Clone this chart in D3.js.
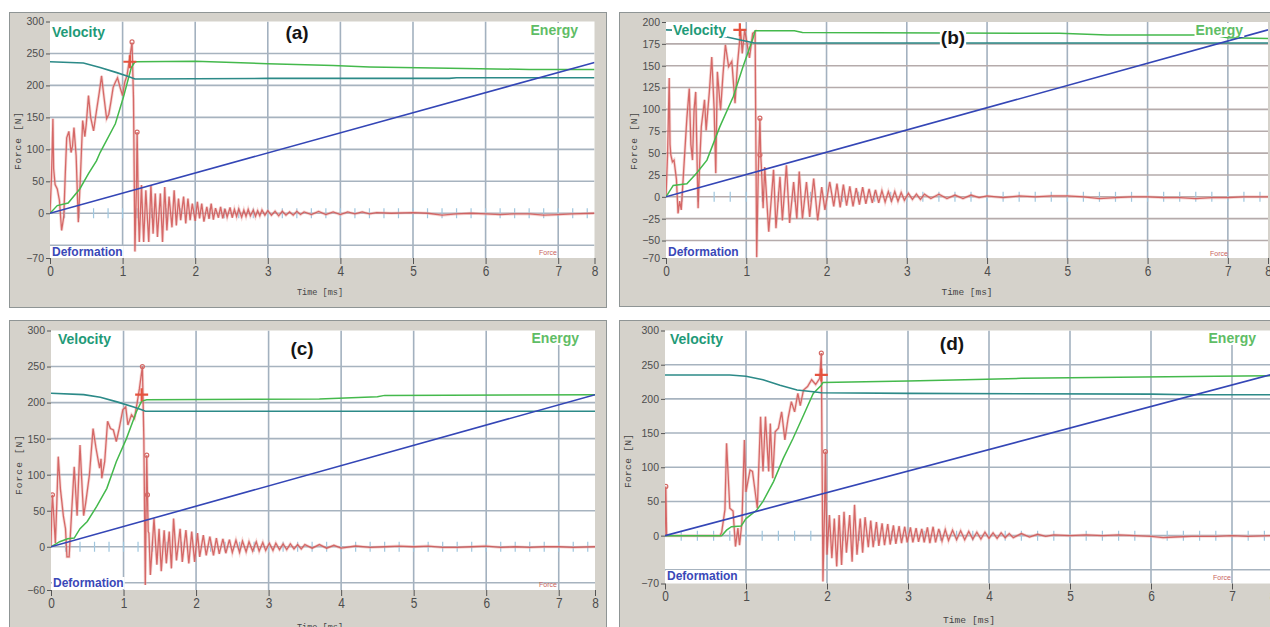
<!DOCTYPE html>
<html>
<head>
<meta charset="utf-8">
<script src="https://cdn.jsdelivr.net/npm/d3@7"></script>
<style>
  body { margin: 0; background: #fff; }
  svg { display: block; }
</style>
</head>
<body>
<svg width="1270" height="627"></svg>
<script>
// time axis (the software labels the right edge "8" although it sits at 7.5 ms)
const timeTicks = [0, 1, 2, 3, 4, 5, 6, 7];
const timeMax = 7.5;
const timeEndLabel = "8";

const yTicksA = [300, 250, 200, 150, 100, 50, 0, -70];
const yGridA = [250, 200, 150, 100, 50, 0, -50];
const yTicksB = [200, 175, 150, 125, 100, 75, 50, 25, 0, -25, -50, -70];
const yGridB = [175, 150, 125, 100, 75, 50, 25, 0, -25, -50];
const yTicksC = [300, 250, 200, 150, 100, 50, 0, -60];
const yGridC = [250, 200, 150, 100, 50, 0, -50];
const yTicksD = [300, 250, 200, 150, 100, 50, 0, -70];
const yGridD = [250, 200, 150, 100, 50, 0, -50];

// [time ms, value]
const forceA = [[0,0],[0.02,55],[0.04,148],[0.05,70],[0.07,45],[0.1,38],[0.13,20],[0.16,-27],[0.19,-5],[0.21,60],[0.23,118],[0.26,128],[0.29,95],[0.31,105],[0.33,134],[0.36,90],[0.39,-14],[0.42,60],[0.45,145],[0.48,120],[0.5,140],[0.53,184],[0.56,150],[0.6,129],[0.64,160],[0.68,190],[0.71,215],[0.74,185],[0.78,148],[0.81,155],[0.84,175],[0.87,197],[0.9,205],[0.93,212],[0.97,195],[1.0,184],[1.03,205],[1.06,215],[1.09,237],[1.13,267],[1.15,180],[1.17,-60],[1.19,40],[1.2,127],[1.22,-10],[1.23,-45],[1.26,44],[1.29,-45],[1.32,36],[1.36,-45],[1.39,44],[1.42,-32],[1.45,31],[1.48,-37],[1.52,31],[1.55,-45],[1.58,41],[1.61,-27],[1.64,26],[1.68,-22],[1.71,36],[1.74,-19],[1.77,23],[1.8,-11],[1.84,26],[1.87,-16],[1.9,23],[1.93,-11],[1.96,15],[2.0,-12],[2.03,18],[2.06,-8],[2.09,15],[2.12,-13],[2.16,10],[2.19,-9],[2.22,15],[2.25,-10],[2.28,8],[2.32,-7],[2.35,10],[2.38,-8],[2.41,7],[2.44,-6],[2.48,9],[2.51,-7],[2.54,6],[2.57,-5],[2.6,7],[2.64,-6],[2.67,5],[2.7,-5],[2.73,6],[2.76,-4],[2.8,5],[2.83,-5],[2.86,4],[2.89,-4],[2.92,5],[2.96,-3],[3.0,4],[3.05,-3],[3.1,3],[3.15,-4],[3.2,3],[3.25,-3],[3.3,2],[3.35,-3],[3.4,3],[3.45,-2],[3.5,2],[3.6,-2],[3.7,3],[3.8,-2],[3.9,2],[4.0,-2],[4.1,2],[4.2,-1],[4.3,2],[4.4,-1],[4.5,1],[4.7,0],[5.0,1],[5.2,0],[5.4,-3],[5.6,-1],[5.8,0],[6.0,-1],[6.2,-2],[6.4,-1],[6.6,-1],[6.8,-3],[7.0,-2],[7.2,-1],[7.5,0]];
const energyA = [[0,0],[0.1,12],[0.25,16],[0.41,38],[0.53,62],[0.64,82],[0.69,95],[0.9,140],[1.01,181],[1.12,228],[1.17,237],[2.0,238],[3.0,234],[3.9,231],[4.4,229],[5.5,227],[6.6,225],[7.5,225]];
const velocityA = [[0,237],[0.46,235],[0.69,228],[0.92,220],[1.08,214],[1.17,210],[3.0,211],[5.5,211],[5.6,212],[7.5,212]];
const deformationA = [[0,0],[7.5,236]];
const peakA = [1.1, 237];
const dotsA = [[1.13,268],[1.2,127]];

const forceB = [[0,0],[0.02,50],[0.04,136],[0.05,60],[0.06,48],[0.08,40],[0.1,42],[0.13,20],[0.15,-19],[0.17,-5],[0.19,-15],[0.22,30],[0.26,90],[0.29,124],[0.31,60],[0.33,42],[0.35,100],[0.37,120],[0.39,30],[0.4,-13],[0.42,40],[0.44,80],[0.48,111],[0.5,76],[0.54,120],[0.57,160],[0.6,100],[0.62,27],[0.64,143],[0.68,99],[0.71,140],[0.74,174],[0.78,149],[0.82,155],[0.86,107],[0.89,151],[0.93,191],[0.95,164],[0.98,191],[1.01,175],[1.04,159],[1.08,187],[1.11,189],[1.13,-69],[1.15,30],[1.17,90],[1.18,48],[1.19,31],[1.21,-13],[1.23,34],[1.28,-40],[1.34,31],[1.37,-36],[1.42,23],[1.45,-27],[1.5,36],[1.54,-30],[1.59,17],[1.63,-25],[1.66,29],[1.7,-25],[1.75,17],[1.79,-23],[1.84,21],[1.89,-27],[1.94,11],[1.98,-15],[2.04,17],[2.09,-11],[2.13,15],[2.17,-12],[2.21,14],[2.25,-10],[2.29,12],[2.33,-11],[2.37,10],[2.41,-9],[2.45,11],[2.49,-8],[2.53,9],[2.57,-7],[2.61,8],[2.65,-7],[2.69,7],[2.73,-6],[2.77,6],[2.81,-5],[2.85,6],[2.89,-5],[2.93,5],[2.97,-4],[3.02,4],[3.07,-3],[3.12,3],[3.17,-3],[3.22,3],[3.3,-2],[3.4,3],[3.5,-2],[3.6,2],[3.7,-2],[3.8,2],[3.9,-1],[4.0,1],[4.2,-1],[4.4,1],[4.6,0],[4.8,1],[5.0,1],[5.2,0],[5.4,-2],[5.6,-1],[5.8,0],[6.0,0],[6.2,-1],[6.4,-1],[6.6,-2],[6.8,-1],[7.0,-1],[7.2,0],[7.5,0]];
const energyB = [[0,0],[0.09,13],[0.26,15],[0.38,27],[0.51,42],[0.67,80],[0.84,115],[0.96,149],[1.09,183],[1.11,190],[1.6,190],[1.7,188],[4.9,187],[5.5,185],[6.8,185],[7.0,182],[7.5,181]];
const velocityB = [[0,191],[0.3,190],[0.6,186],[0.8,182],[1.0,178],[1.1,176],[7.5,176]];
const deformationB = [[0,0],[7.5,191]];
const peakB = [0.92, 191];
const dotsB = [[1.17,90],[1.17,48]];

const forceC = [[0,0],[0.01,49],[0.02,72],[0.04,40],[0.06,5],[0.08,60],[0.1,125],[0.13,80],[0.15,62],[0.17,43],[0.2,25],[0.22,-14],[0.25,-14],[0.28,40],[0.32,111],[0.36,43],[0.4,141],[0.43,80],[0.45,43],[0.48,62],[0.53,100],[0.58,164],[0.62,137],[0.67,109],[0.69,122],[0.7,95],[0.74,118],[0.78,174],[0.82,164],[0.86,162],[0.9,146],[0.94,164],[0.99,190],[1.03,194],[1.06,169],[1.11,183],[1.15,178],[1.19,201],[1.22,220],[1.26,250],[1.28,150],[1.3,-53],[1.31,40],[1.32,127],[1.33,72],[1.34,21],[1.35,19],[1.37,-39],[1.42,39],[1.46,-25],[1.49,25],[1.52,-34],[1.56,23],[1.59,-23],[1.63,21],[1.66,-30],[1.69,39],[1.73,-19],[1.78,25],[1.81,-21],[1.86,23],[1.9,-23],[1.94,21],[1.98,-21],[2.02,19],[2.05,-14],[2.1,16],[2.14,-12],[2.19,14],[2.24,-12],[2.28,12],[2.32,-10],[2.37,11],[2.41,-9],[2.46,10],[2.5,-8],[2.55,9],[2.6,-8],[2.64,8],[2.69,-7],[2.73,7],[2.78,-6],[2.83,7],[2.87,-6],[2.92,6],[2.96,-5],[3.01,5],[3.06,-5],[3.1,5],[3.15,-4],[3.2,4],[3.25,-4],[3.3,4],[3.35,-3],[3.4,3],[3.45,-3],[3.5,3],[3.6,-2],[3.7,3],[3.8,-2],[3.9,2],[4.0,-2],[4.2,1],[4.4,-1],[4.6,0],[4.8,1],[5.0,0],[5.2,1],[5.4,-1],[5.6,-1],[5.8,0],[6.0,1],[6.2,-1],[6.4,0],[6.6,-1],[6.8,0],[7.0,0],[7.2,-1],[7.5,0]];
const energyC = [[0,0],[0.12,7],[0.23,11],[0.32,12],[0.4,25],[0.5,35],[0.63,56],[0.77,81],[0.9,118],[1.04,150],[1.18,188],[1.25,202],[1.32,204],[3.7,205],[4.5,208],[4.6,210],[7.5,211]];
const velocityC = [[0,213],[0.45,211],[0.68,207.5],[0.91,201],[1.14,194],[1.25,190],[1.3,188],[7.5,188]];
const deformationC = [[0,0],[7.5,211]];
const peakC = [1.25, 211];
const dotsC = [[0.02,72],[1.26,250],[1.32,127],[1.33,72]];

const forceD = [[0,0],[0.005,57],[0.01,72],[0.02,0],[0.68,0],[0.7,5],[0.74,38],[0.76,135],[0.8,40],[0.84,36],[0.87,-16],[0.9,11],[0.92,-14],[0.95,20],[0.98,140],[1.0,64],[1.05,96],[1.08,94],[1.14,40],[1.18,174],[1.21,94],[1.24,174],[1.28,94],[1.3,164],[1.33,84],[1.36,152],[1.4,157],[1.44,181],[1.48,140],[1.52,172],[1.56,196],[1.6,181],[1.64,208],[1.67,190],[1.71,213],[1.76,218],[1.81,228],[1.86,221],[1.91,230],[1.93,267],[1.95,-67],[1.97,40],[1.98,123],[1.99,40],[2.0,-28],[2.03,30],[2.06,-33],[2.09,25],[2.12,-45],[2.15,30],[2.18,-43],[2.21,35],[2.24,-25],[2.28,30],[2.31,-38],[2.34,45],[2.37,-28],[2.41,25],[2.44,-25],[2.47,27],[2.51,-17],[2.54,22],[2.57,-17],[2.61,20],[2.64,-15],[2.68,18],[2.71,-14],[2.75,17],[2.78,-13],[2.82,15],[2.85,-12],[2.89,14],[2.92,-11],[2.96,13],[2.99,-10],[3.03,12],[3.06,-10],[3.1,11],[3.13,-9],[3.17,10],[3.2,-10],[3.24,12],[3.27,-11],[3.31,13],[3.34,-10],[3.38,10],[3.42,-8],[3.46,9],[3.5,-7],[3.55,8],[3.6,-6],[3.65,7],[3.7,-6],[3.75,6],[3.8,-5],[3.85,5],[3.9,-5],[3.95,5],[4.0,-4],[4.05,4],[4.1,-4],[4.15,4],[4.2,-3],[4.25,3],[4.3,-3],[4.4,3],[4.5,-2],[4.6,2],[4.7,-1],[4.8,1],[5.0,0],[5.2,1],[5.4,0],[5.6,1],[5.8,0],[6.0,-1],[6.15,-3],[6.3,-2],[6.5,-1],[6.8,-1],[7.0,0],[7.2,-1],[7.5,0]];
const energyD = [[0,0],[0.7,0],[0.76,8],[0.82,13],[0.94,14],[1.0,25],[1.13,37],[1.21,50],[1.34,79],[1.46,113],[1.58,142],[1.71,176],[1.83,208],[1.93,220],[1.95,224],[3.0,226],[3.7,228],[4.4,230],[5.0,231],[6.8,233],[7.5,234]];
const velocityD = [[0,235],[0.8,235],[1.0,233],[1.21,228],[1.42,220],[1.63,213],[1.83,210.5],[1.93,209],[3.0,208],[6.0,207],[6.5,206],[7.5,206]];
const deformationD = [[0,0],[7.5,236]];
const peakD = [1.93, 235];
const dotsD = [[0.01,72],[1.93,267],[1.98,123]];

const svg = d3.select("svg");
const defs = svg.append("defs");
const tickFont = "'Liberation Sans', Arial, sans-serif";
const monoFont = "'Liberation Mono', 'DejaVu Sans Mono', monospace";
const zeroTicks = d3.range(1, 38).map(i => i * 0.2);

const panels = [
  { key: "a", name: "(a)", frame: [9, 12, 597, 295], xRange: [50, 594.5], yRange: [258, 21.5], yDomain: [-70, 300],
    yTicks: yTicksA, yGrid: yGridA, gridColor: "#a7b3bf",
    force: forceA, energy: energyA, velocity: velocityA, deformation: deformationA, peak: peakA, dots: dotsA,
    velocityAt: [52, 37], energyAt: [578, 35], deformAt: [52, 256], nameAt: [297, 39], forceAt: [548, 255],
    yTitle: [18, 141, 58], xTitle: [320, 295, 46] },
  { key: "b", name: "(b)", frame: [619, 12, 660, 294], xRange: [666, 1268], yRange: [258, 22], yDomain: [-70, 200],
    yTicks: yTicksB, yGrid: yGridB, gridColor: "#b5abab",
    force: forceB, energy: energyB, velocity: velocityB, deformation: deformationB, peak: peakB, dots: dotsB,
    velocityAt: [673, 35], energyAt: [1243, 35], deformAt: [668, 256], nameAt: [953, 44], forceAt: [1219, 256],
    yTitle: [634, 141, 58], xTitle: [967, 295, 51] },
  { key: "c", name: "(c)", frame: [9, 320, 597, 320], xRange: [51, 595], yRange: [590, 330.5], yDomain: [-60, 300],
    yTicks: yTicksC, yGrid: yGridC, gridColor: "#a7b3bf",
    force: forceC, energy: energyC, velocity: velocityC, deformation: deformationC, peak: peakC, dots: dotsC,
    velocityAt: [58, 344], energyAt: [579, 343], deformAt: [53, 587], nameAt: [302, 355], forceAt: [548, 587],
    yTitle: [19, 465, 60], xTitle: [320, 630, 46] },
  { key: "d", name: "(d)", frame: [619, 320, 660, 320], xRange: [665, 1272.5], yRange: [583.5, 330.5], yDomain: [-70, 300],
    yTicks: yTicksD, yGrid: yGridD, gridColor: "#a7b3bf",
    force: forceD, energy: energyD, velocity: velocityD, deformation: deformationD, peak: peakD, dots: dotsD,
    velocityAt: [670, 344], energyAt: [1256, 343], deformAt: [667, 580], nameAt: [952, 350], forceAt: [1222, 580],
    yTitle: [628, 461, 54], xTitle: [969, 623, 52] }
];

// text with a white box behind it, so the curves run under the label
function boxedText(g, x, y, txt, anchor, size, color, weight) {
  const t = g.append("text")
    .attr("x", x).attr("y", y)
    .attr("text-anchor", anchor)
    .attr("font-family", tickFont)
    .attr("font-size", size)
    .attr("font-weight", weight)
    .attr("fill", color)
    .text(txt);
  const b = t.node().getBBox();
  g.insert("rect", () => t.node())
    .attr("x", b.x - 1).attr("y", b.y + 1)
    .attr("width", b.width + 2).attr("height", b.height - 2)
    .attr("fill", "#fff");
  return t;
}

function drawPanel(p) {
  const g = svg.append("g");
  const [fx, fy, fw, fh] = p.frame;
  g.append("rect")
    .attr("x", fx + 0.5).attr("y", fy + 0.5)
    .attr("width", fw).attr("height", fh)
    .attr("fill", "#d5d2cb")
    .attr("stroke", "#8f9595");

  const x = d3.scaleLinear().domain([0, timeMax]).range(p.xRange);
  const y = d3.scaleLinear().domain(p.yDomain).range(p.yRange);
  const [x0, x1] = p.xRange;
  const [yb, yt] = p.yRange;

  g.append("rect")
    .attr("x", x0).attr("y", yt)
    .attr("width", x1 - x0).attr("height", yb - yt)
    .attr("fill", "#fff");

  defs.append("clipPath").attr("id", "clip-" + p.key)
    .append("rect")
    .attr("x", x0).attr("y", yt)
    .attr("width", x1 - x0).attr("height", yb - yt);

  const plot = g.append("g").attr("clip-path", `url(#clip-${p.key})`);

  plot.append("g").selectAll("line")
    .data(timeTicks.filter(t => t > 0))
    .join("line")
    .attr("x1", d => x(d)).attr("x2", d => x(d))
    .attr("y1", yt).attr("y2", yb)
    .attr("stroke", "#a3b1bf")
    .attr("stroke-width", 1.6);

  plot.append("g").selectAll("line")
    .data(p.yGrid)
    .join("line")
    .attr("x1", x0).attr("x2", x1)
    .attr("y1", d => y(d)).attr("y2", d => y(d))
    .attr("stroke", p.gridColor)
    .attr("stroke-width", 1.6);

  plot.append("g").selectAll("line")
    .data(zeroTicks)
    .join("line")
    .attr("x1", d => x(d)).attr("x2", d => x(d))
    .attr("y1", y(0) - 5).attr("y2", y(0) + 5)
    .attr("stroke", "#9fc6de")
    .attr("stroke-width", 1.2);

  const line = d3.line()
    .x(d => x(d[0]))
    .y(d => y(d[1]));

  plot.append("path")
    .datum(p.force)
    .attr("fill", "none")
    .attr("stroke", "#eaa8a4")
    .attr("stroke-width", 3)
    .attr("stroke-opacity", 0.45)
    .attr("d", line);

  plot.append("path")
    .datum(p.force)
    .attr("fill", "none")
    .attr("stroke", "#cf5553")
    .attr("stroke-width", 1.3)
    .attr("stroke-opacity", 0.85)
    .attr("d", line);

  plot.append("path")
    .datum(p.energy)
    .attr("fill", "none")
    .attr("stroke", "#44b94c")
    .attr("stroke-width", 1.5)
    .attr("d", line);

  plot.append("path")
    .datum(p.velocity)
    .attr("fill", "none")
    .attr("stroke", "#2c8a88")
    .attr("stroke-width", 1.6)
    .attr("d", line);

  plot.append("path")
    .datum(p.deformation)
    .attr("fill", "none")
    .attr("stroke", "#3446b6")
    .attr("stroke-width", 1.6)
    .attr("d", line);

  plot.selectAll(".dot")
    .data(p.dots)
    .join("circle")
    .attr("cx", d => x(d[0]))
    .attr("cy", d => y(d[1]))
    .attr("r", 2)
    .attr("fill", "none")
    .attr("stroke", "#d46a66")
    .attr("stroke-width", 1.2);

  const px = x(p.peak[0]), py = y(p.peak[1]);
  plot.append("path")
    .attr("d", `M${px - 6.5},${py}H${px + 6.5}M${px},${py - 6.5}V${py + 6.5}`)
    .attr("stroke", "#e5533f")
    .attr("stroke-width", 2.2);

  // axes
  const yAxis = g.append("g")
    .attr("transform", `translate(${x0},0)`)
    .call(d3.axisLeft(y).tickValues(p.yTicks).tickSize(4).tickPadding(2));
  yAxis.select(".domain").remove();
  yAxis.selectAll("line").attr("stroke", "#555");
  yAxis.selectAll("text")
    .attr("font-family", tickFont)
    .attr("font-size", 10.5)
    .attr("fill", "#4d4d4d");

  const xAxis = g.append("g")
    .attr("transform", `translate(0,${yb})`)
    .call(d3.axisBottom(x)
      .tickValues([...timeTicks, timeMax])
      .tickFormat(d => d === timeMax ? timeEndLabel : d)
      .tickSize(6).tickPadding(2));
  xAxis.select(".domain").remove();
  xAxis.selectAll("line").attr("stroke", "#555");
  xAxis.selectAll("text")
    .attr("font-family", tickFont)
    .attr("font-size", 14)
    .attr("textLength", 6.6)
    .attr("lengthAdjust", "spacingAndGlyphs")
    .attr("fill", "#4d4d4d");

  g.append("text")
    .attr("transform", `translate(${p.yTitle[0]},${p.yTitle[1]}) rotate(-90)`)
    .attr("text-anchor", "middle")
    .attr("dy", "0.35em")
    .attr("font-family", monoFont)
    .attr("font-size", 9.5)
    .attr("textLength", p.yTitle[2])
    .attr("lengthAdjust", "spacing")
    .attr("fill", "#444")
    .text("Force [N]");

  g.append("text")
    .attr("x", p.xTitle[0]).attr("y", p.xTitle[1])
    .attr("text-anchor", "middle")
    .attr("font-family", monoFont)
    .attr("font-size", 9.5)
    .attr("textLength", p.xTitle[2])
    .attr("lengthAdjust", "spacingAndGlyphs")
    .attr("fill", "#444")
    .text("Time [ms]");

  // in-plot labels
  const lab = g.append("g");
  boxedText(lab, p.velocityAt[0], p.velocityAt[1], "Velocity", "start", 14, "#1f9a78", "bold");
  boxedText(lab, p.energyAt[0], p.energyAt[1], "Energy", "end", 14, "#5fbd66", "bold");
  boxedText(lab, p.deformAt[0], p.deformAt[1], "Deformation", "start", 12, "#3a48b8", "bold");
  boxedText(lab, p.nameAt[0], p.nameAt[1], p.name, "middle", 19, "#151515", "bold");
  lab.append("text")
    .attr("x", p.forceAt[0]).attr("y", p.forceAt[1])
    .attr("text-anchor", "middle")
    .attr("font-family", tickFont)
    .attr("font-size", 7)
    .attr("fill", "#c8625e")
    .text("Force");
}

panels.forEach(drawPanel);
</script>
</body>
</html>
